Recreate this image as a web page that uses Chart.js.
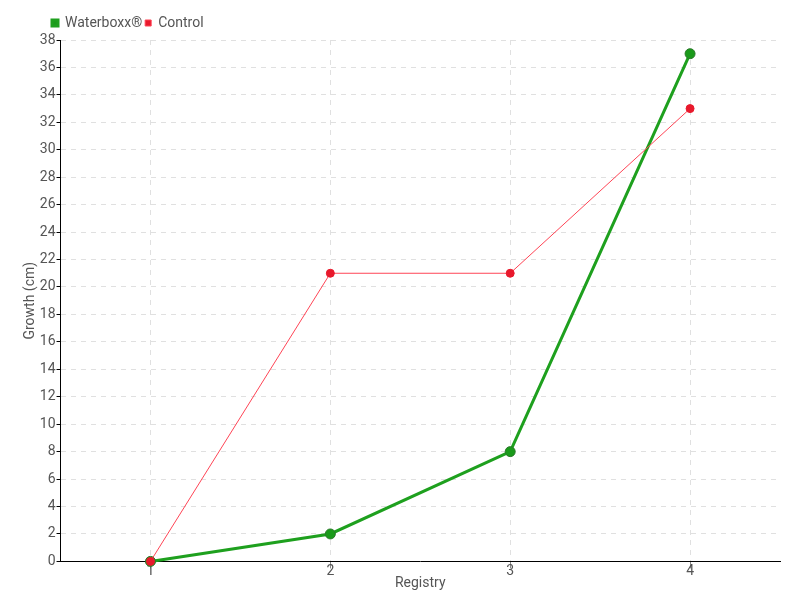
<!DOCTYPE html>
<html>
<head>
<meta charset="utf-8">
<script src="https://cdn.jsdelivr.net/npm/chart.js@4"></script>
<style>
  html, body { margin: 0; padding: 0; background: #fff; }
  #wrap { width: 800px; height: 600px; }
</style>
</head>
<body>
<div id="wrap"><canvas id="c" width="800" height="600"></canvas></div>
<script>
// 資料
const registry = ['1', '2', '3', '4'];
const waterboxx = [0, 2, 8, 37];
const control = [0, 21, 21, 33];

const FONT = 'Roboto, sans-serif';
const TEXT = '#555';
const GRID = '#e0e0e0';

// 圖例往右移
const legendShift = {
    id: 'legendShift',
    afterLayout(c) {
        c.legend.left += 27;
    }
};

const ctx = document.getElementById('c').getContext('2d');
const chart = new Chart(ctx, {
    type: 'line',
    data: {
        labels: registry,
        datasets: [
            {
                label: 'Waterboxx®',
                data: waterboxx,
                borderColor: '#1ea01e',
                backgroundColor: '#1a9a1a',
                pointBorderColor: '#2a7a2a',
                pointBackgroundColor: '#1a9a1a',
                borderWidth: 3,
                pointRadius: 5,
                pointBorderWidth: 1,
                tension: 0,
                clip: false,
                order: 1
            },
            {
                label: 'Control',
                data: control,
                borderColor: '#ff4455',
                backgroundColor: '#e8192c',
                pointBorderColor: '#e8192c',
                pointBackgroundColor: '#e8192c',
                borderWidth: 1,
                pointRadius: 4,
                pointBorderWidth: 1,
                tension: 0,
                clip: false,
                order: 0
            }
        ]
    },
    options: {
        responsive: false,
        animation: false,
        layout: { padding: { left: 22, right: 20, top: 13, bottom: 8 } },
        plugins: {
            legend: {
                position: 'top',
                align: 'start',
                labels: {
                    boxWidth: 6,
                    boxHeight: 6,
                    padding: 3,
                    color: TEXT,
                    font: { family: FONT, size: 14 },
                    sort: (a, b) => a.datasetIndex - b.datasetIndex
                }
            },
            tooltip: { enabled: false }
        },
        scales: {
            x: {
                offset: true,
                grid: {
                    offset: false,
                    color: GRID,
                    tickColor: '#888',
                    tickLength: 7
                },
                border: { color: '#000', width: 1, dash: [5, 5] },
                ticks: { color: TEXT, font: { family: FONT, size: 14 }, padding: -5 },
                title: {
                    display: true,
                    text: 'Registry',
                    color: TEXT,
                    font: { family: FONT, size: 14 },
                    padding: { top: 0, bottom: 0 }
                }
            },
            y: {
                min: 0,
                max: 38,
                grid: {
                    color: GRID,
                    tickColor: '#000',
                    tickLength: 4
                },
                border: { color: '#000', width: 1, dash: [5, 5] },
                ticks: {
                    stepSize: 2,
                    color: TEXT,
                    font: { family: FONT, size: 14 },
                    padding: 1
                },
                title: {
                    display: true,
                    text: 'Growth (cm)',
                    color: TEXT,
                    font: { family: FONT, size: 14 },
                    padding: { top: 0, bottom: 0 }
                }
            }
        }
    },
    plugins: [legendShift]
});
</script>
</body>
</html>
